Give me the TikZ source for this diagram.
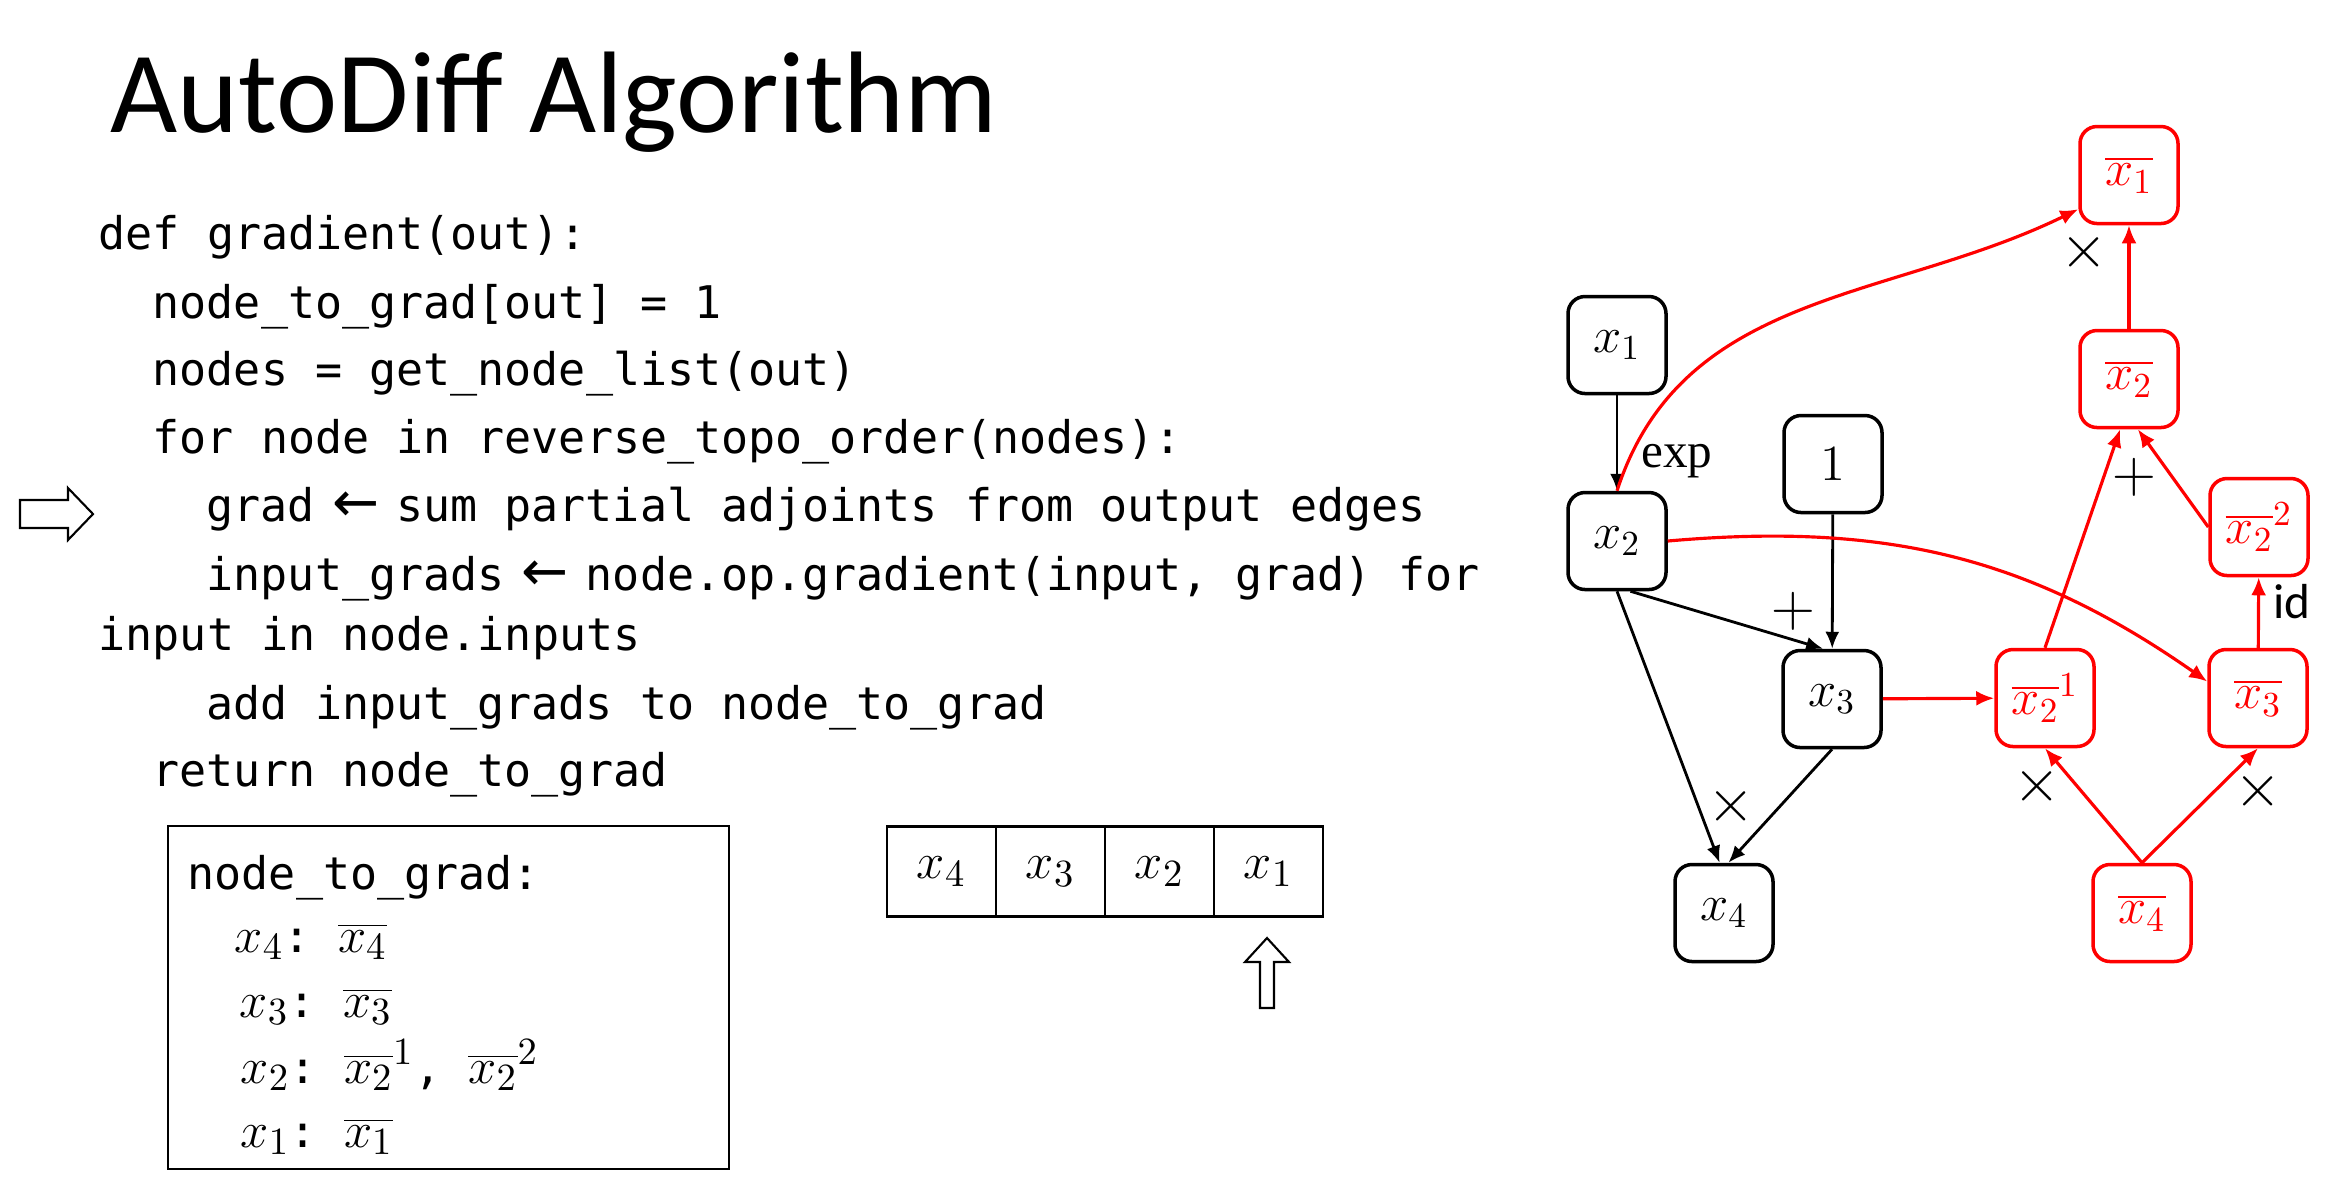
\documentclass[tikz,border=0pt]{standalone}
\usepackage{fontspec}
\setmainfont{Carlito}
\setmonofont{DejaVu Sans Mono}
\newfontfamily\serifont{Liberation Serif}
\newfontfamily\arrowfont{DejaVu Sans}
\usetikzlibrary{shapes.geometric, arrows.meta}
\usepackage{xcolor}
\definecolor{adjRed}{RGB}{255, 0, 0}
\newcommand{\codetxt}[1]{{\fontsize{12.8}{15}\ttfamily #1}}
\newcommand{\getsarrow}{\makebox[0.602em]{\arrowfont\fontsize{16}{15}\selectfont ←}}

\begin{document}
\begin{tikzpicture}
    [
		var/.style={
			draw, rounded corners=0.17cm, line width=1pt, minimum width=0.98cm,
			minimum height=0.97cm, inner sep=0pt, font=\fontsize{14.5}{17}\selectfont
		},
		adj/.style={var, draw=adjRed, text=adjRed},
		fwd/.style={-{Latex[length=0.17cm, width=0.14cm]}, line width=0.8pt},
		bwd/.style={-{Latex[length=0.18cm, width=0.15cm]}, line width=0.9pt, draw=adjRed},
		oplabel/.style={inner sep=0pt, font=\fontsize{16}{19}\selectfont},
		pluslabel/.style={inner sep=0pt, font=\fontsize{17}{20}\selectfont},
		codeline/.style={anchor=base west, inner sep=0pt, font=\fontsize{12.8}{15}\ttfamily},
		gradline/.style={anchor=base west, inner sep=0pt, font=\fontsize{15}{18}\selectfont},
		cell/.style={
			draw, line width=0.7pt, minimum width=1.09cm, minimum height=0.90cm,
			inner sep=0pt, font=\fontsize{15}{18}\selectfont
		}
	]

\useasboundingbox (0,0) rectangle (23.46,-11.82);

% Title
\node (title) [anchor=base west, inner sep=0pt, font=\fontsize{33}{40}\selectfont]
	at (1.10,-1.32) {AutoDiff Algorithm};

% Code
\node (l1) [codeline] at (0.98,-2.49) {def gradient(out):};
\node (l2) [codeline] at (1.52,-3.18) {node\_to\_grad[out] = 1};
\node (l3) [codeline] at (1.52,-3.85) {nodes = get\_node\_list(out)};
\node (l4) [codeline] at (1.52,-4.53) {for node in reverse\_topo\_order(nodes):};
\node (l5) [codeline] at (2.06,-5.21) {grad \getsarrow{} sum partial adjoints from output edges};
\node (l6) [codeline] at (2.06,-5.90) {input\_grads \getsarrow{} node.op.gradient(input, grad) for};
\node (l7) [codeline] at (0.98,-6.50) {input in node.inputs};
\node (l8) [codeline] at (2.06,-7.19) {add input\_grads to node\_to\_grad};
\node (l9) [codeline] at (1.52,-7.86) {return node\_to\_grad};

% current line marker
\draw [line width=0.6pt, fill=white]
	(0.20,-5.00) -- (0.68,-5.00) -- (0.68,-4.88) -- (0.93,-5.14)
	-- (0.68,-5.40) -- (0.68,-5.28) -- (0.20,-5.28) -- cycle;

% node_to_grad table
\node (gradbox) [draw, line width=0.7pt, minimum width=5.61cm, minimum height=3.43cm, inner sep=0pt]
	at (4.485,-9.975) {};
\node (ntg) [codeline] at (1.87,-8.89) {node\_to\_grad:};
\node (g4) [gradline] at (2.34,-9.52) {$x_4$\codetxt{: }$\overline{x_4}$};
\node (g3) [gradline] at (2.39,-10.17) {$x_3$\codetxt{: }$\overline{x_3}$};
\node (g2) [gradline] at (2.40,-10.83) {$x_2$\codetxt{: }$\overline{x_2}^{1}$\codetxt{, }$\overline{x_2}^{2}$};
\node (g1) [gradline] at (2.40,-11.47) {$x_1$\codetxt{: }$\overline{x_1}$};

% reverse topo order
\node (q4) [cell] at (9.415,-8.715) {$x_4$};
\node (q3) [cell] at (10.505,-8.715) {$x_3$};
\node (q2) [cell] at (11.595,-8.715) {$x_2$};
\node (q1) [cell] at (12.685,-8.715) {$x_1$};
\draw [line width=0.6pt, fill=white]
	(12.60,-10.08) -- (12.60,-9.62) -- (12.45,-9.62) -- (12.67,-9.38)
	-- (12.89,-9.62) -- (12.74,-9.62) -- (12.74,-10.08) -- cycle;

% Nodes
\node (x1) [var] at (16.17,-3.45) {$x_1$};
\node (x2) [var] at (16.17,-5.41) {$x_2$};
\node (one) [var] at (18.33,-4.64) {$1$};
\node (x3) [var] at (18.32,-6.99) {$x_3$};
\node (x4) [var] at (17.24,-9.13) {$x_4$};

\node (gx1) [adj] at (21.29,-1.75) {$\overline{x_1}$};
\node (gx2) [adj] at (21.29,-3.79) {$\overline{x_2}$};
\node (gx22) [adj] at (22.59,-5.27) {$\overline{x_2}^{2}$};
\node (gx21) [adj] at (20.45,-6.98) {$\overline{x_2}^{1}$};
\node (gx3) [adj] at (22.58,-6.98) {$\overline{x_3}$};
\node (gx4) [adj] at (21.42,-9.13) {$\overline{x_4}$};

% Transitions
\draw [fwd]
	(x1) to node [oplabel, font=\fontsize{14}{17}\serifont, pos=0.69, right=0.23cm]
	{exp} (x2);

\draw [fwd]
	(one) to node [pluslabel, pos=0.72, left=0.16cm]
	{$+$} (x3);

\draw [fwd] (x2.-75) to (x3.100);
\draw [fwd] (x2.south) to (x4.95);

\draw [fwd]
	(x3.south) to node [oplabel, pos=0.5, left=0.245cm]
	{$\times$} (x4.85);

% Adjoints
\draw [bwd] (x3) to (gx21);

\draw [bwd]
	(gx4.north) to node [oplabel, pos=0.67, left=0.15cm]
	{$\times$} (gx21.south);

\draw [bwd]
	(gx4.north) to node [oplabel, pos=0.62, right=0.19cm]
	{$\times$} (gx3.south);

\draw [bwd]
	(gx3) to node [oplabel, font=\fontsize{14}{17}\selectfont, pos=0.655, right=0.13cm]
	{id} (gx22);

\draw [bwd]
	(gx21.north) to node [pluslabel, pos=0.78, right=0.07cm]
	{$+$} (gx2.-100);

\draw [bwd] (gx22.west) to (gx2.-80);

\draw [bwd]
	(gx2) to node [oplabel, pos=0.74, left=0.2cm]
	{$\times$} (gx1);

\draw [bwd] (x2.north) to [out=72, in=206] (gx1.214);
\draw [bwd] (x2.east) to [out=5, in=145] (gx3.162);

\end{tikzpicture}
\end{document}
